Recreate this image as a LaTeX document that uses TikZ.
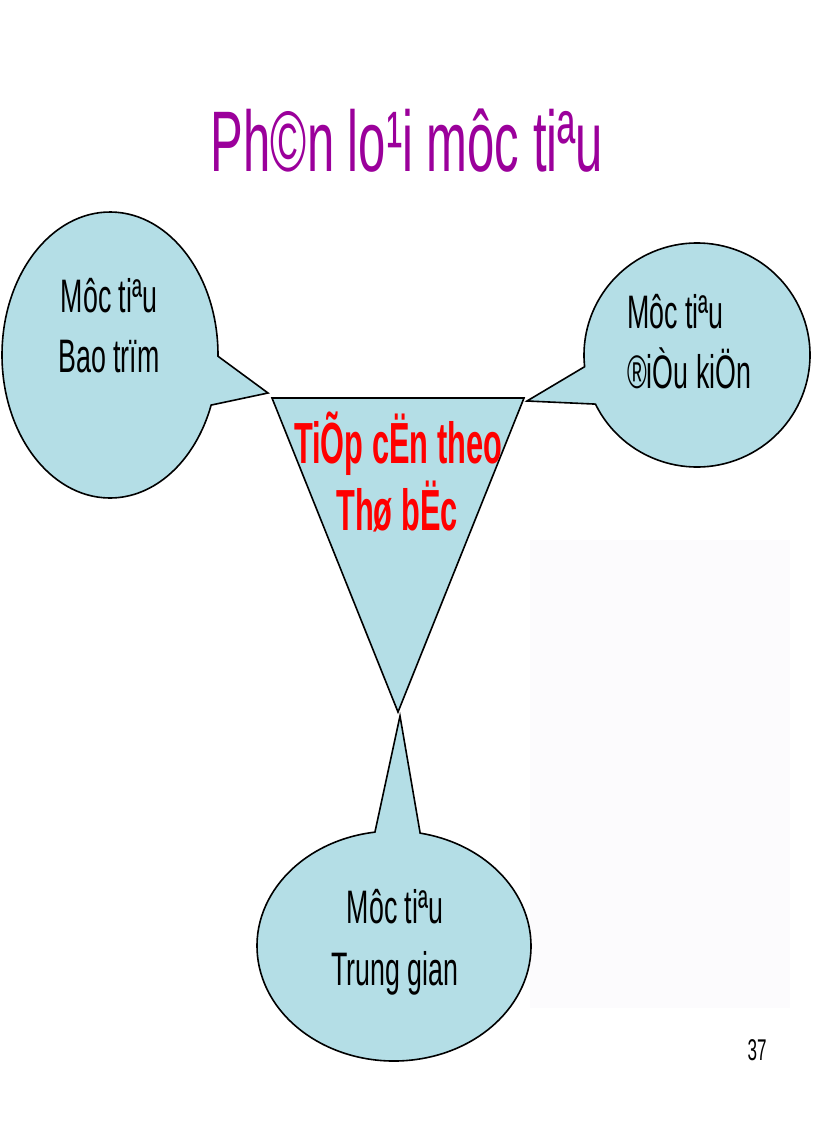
\documentclass[tikz,border=0pt]{standalone}
\usepackage{fontspec}
\setmainfont{Liberation Sans}
\newfontfamily\narrowfont[FakeStretch=0.57]{Liberation Sans}
\newfontfamily\boldnarrow[FakeStretch=0.53]{Liberation Sans}
\usetikzlibrary{calc}
\definecolor{titlepurple}{RGB}{155,0,155}
\definecolor{bubblefill}{RGB}{180,222,230}
\definecolor{faintbg}{RGB}{252,251,253}
\tikzset{
  bubble/.style={fill=bubblefill, draw=black, line width=1.6pt, line join=miter},
  bubbletext/.style={anchor=base, inner sep=0pt, font=\narrowfont\fontsize{47}{47}\selectfont},
  redtext/.style={anchor=base, inner sep=0pt, text=red, font=\boldnarrow\bfseries\fontsize{58}{58}\selectfont},
}
\begin{document}
\begin{tikzpicture}[x=1pt,y=1pt]
\useasboundingbox (0,0) rectangle (816,-1123);
\fill[white] (0,0) rectangle (816,-1123);
% faint background panel
\fill[faintbg] (530,-540) rectangle (790,-1008);

% title
\node[anchor=base, inner sep=0pt, text=titlepurple, font=\narrowfont\fontsize{86}{86}\selectfont] (title) at (407,-172) {Ph©n lo¹i môc tiªu};

% centres and tips
\coordinate (L) at (110,-355);
\coordinate (R) at (697,-355);
\coordinate (B) at (394,-946);
\coordinate (tipL) at (268,-393);
\coordinate (tipR) at (527,-401);
\coordinate (tipB) at (400,-716);

% left bubble
\draw[bubble] ($(L)+(-0.5:108 and 143)$) arc[start angle=-0.5, end angle=339.5, x radius=108, y radius=143] -- (tipL) -- cycle;
% right bubble
\draw[bubble] ($(R)+(206:113 and 112)$) arc[start angle=206, end angle=546, x radius=113, y radius=112] -- (tipR) -- cycle;
% bottom bubble
\draw[bubble] ($(B)+(98:137 and 115)$) arc[start angle=98, end angle=439, x radius=137, y radius=115] -- (tipB) -- cycle;

% triangle
\coordinate (T1) at (272,-398);
\coordinate (T2) at (524,-398);
\coordinate (T3) at (398,-712);
\draw[bubble] (T1) -- (T2) -- (T3) -- cycle;

% texts
\node[bubbletext] (l1) at (109,-312) {Môc tiªu};
\node[bubbletext] (l2) at (109,-372) {Bao trïm};

\node[bubbletext, anchor=base west] (r1) at (627,-328) {Môc tiªu};
\node[bubbletext, anchor=base west] (r2) at (627,-388) {®iÒu kiÖn};

\node[bubbletext] (b1) at (395,-923) {Môc tiªu};
\node[bubbletext] (b2) at (395,-985) {Trung gian};

\node[redtext] (t1) at (398,-463) {TiÕp cËn theo};
\node[redtext] (t2) at (397,-530) {Thø bËc};

\node[anchor=base, inner sep=0pt, font=\narrowfont\fontsize{30}{30}\selectfont] (pg) at (757,-1060) {37};
\end{tikzpicture}
\end{document}
